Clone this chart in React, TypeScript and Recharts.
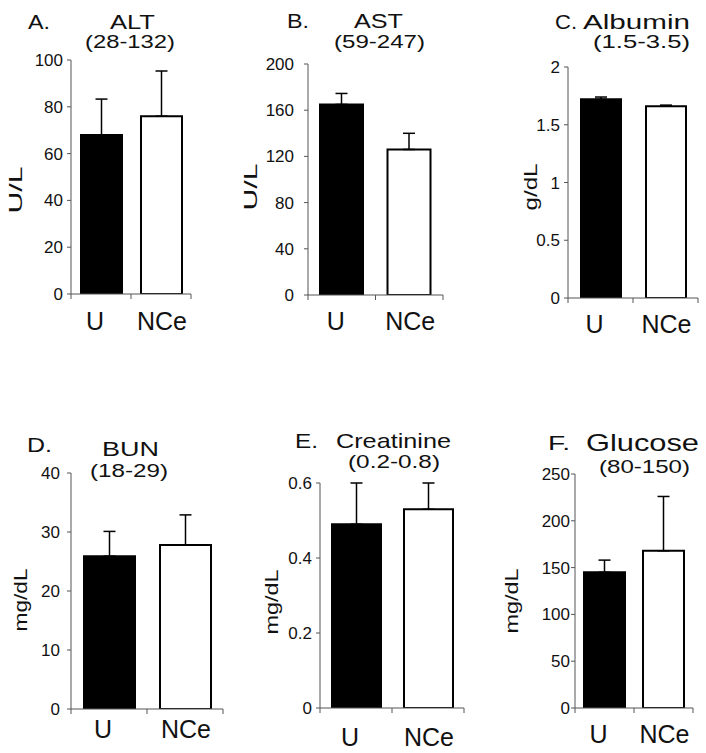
import React from 'react';
import { BarChart, Bar, Cell, XAxis, YAxis, ErrorBar } from 'recharts';

// group labels on the x axis
const groups = ['U', 'NCe'];

// panel texts
const panelLetters = ['A.', 'B.', 'C.', 'D.', 'E.', 'F.'];
const analytes = ['ALT', 'AST', 'Albumin', 'BUN', 'Creatinine', 'Glucose'];
const refRanges = ['(28-132)', '(59-247)', '(1.5-3.5)', '(18-29)', '(0.2-0.8)', '(80-150)'];
const units = ['U/L', 'U/L', 'g/dL', 'mg/dL', 'mg/dL', 'mg/dL'];

// means and upper error (SD) per group
const altMean = [68, 76];
const altSd = [15.3, 19.3];
const astMean = [165, 126];
const astSd = [9.5, 14];
const albMean = [1.72, 1.66];
const albSd = [0.02, 0.01];
const bunMean = [25.9, 27.8];
const bunSd = [4.2, 5.1];
const creMean = [0.49, 0.53];
const creSd = [0.11, 0.07];
const gluMean = [145, 168];
const gluSd = [13, 58];

// y axis ticks
const altTicks = [0, 20, 40, 60, 80, 100];
const astTicks = [0, 40, 80, 120, 160, 200];
const albTicks = [0, 0.5, 1, 1.5, 2];
const bunTicks = [0, 10, 20, 30, 40];
const creTicks = [0, 0.2, 0.4, 0.6];
const gluTicks = [0, 50, 100, 150, 200, 250];

const ink = '#111';
const axisColor = '#555';
const font = '"Liberation Sans", Arial, sans-serif';
const barFills = ['#000', '#fff'];
const xNudge = [-6, 1];

interface PanelProps {
  mean: number[];
  sd: number[];
  ticks: number[];
  L: number;
  R: number;
  T: number;
  B: number;
  barSize: number;
  tickGap: number;
  labelDy: number;
}

const Panel = ({ mean, sd, ticks, L, R, T, B, barSize, tickGap, labelDy }: PanelProps) => {
  const yw = 60;
  const top = 12;
  const right = 12;
  const xh = 50;
  const left = L - yw;
  const width = R - left + right;
  const height = top + (B - T) + xh;
  const data = groups.map((g, i) => ({ group: g, mean: mean[i], err: [0, sd[i]] }));
  const halfBand = (R - L) / groups.length / 2;

  // category ticks sit between the bars, labels under the bars
  const renderTick = (props: any) => {
    const { x, y, payload, index } = props;
    return (
      <g>
        {index === 0 && (
          <line x1={x - halfBand} x2={x - halfBand} y1={y} y2={y + 5} stroke={axisColor} />
        )}
        <line x1={x + halfBand} x2={x + halfBand} y1={y} y2={y + 5} stroke={axisColor} />
        <text x={x + xNudge[index]} y={y + labelDy} textAnchor="middle" fontSize={25} fill={ink}>
          {payload.value}
        </text>
      </g>
    );
  };

  return (
    <div style={{ position: 'absolute', left, top: T - top }}>
      <BarChart width={width} height={height} data={data} margin={{ top, right, bottom: 0, left: 0 }}>
        <XAxis
          dataKey="group"
          height={xh}
          tickSize={0}
          tickMargin={0}
          tick={renderTick}
          stroke={axisColor}
          interval={0}
        />
        <YAxis
          width={yw}
          type="number"
          domain={[0, ticks[ticks.length - 1]]}
          ticks={ticks}
          allowDataOverflow
          interval={0}
          tickSize={4}
          tickMargin={tickGap}
          stroke={axisColor}
          tick={{ fontSize: 17, fill: ink }}
        />
        <Bar dataKey="mean" barSize={barSize} stroke="#000" strokeWidth={2} isAnimationActive={false}>
          {data.map((d, i) => (
            <Cell key={d.group} fill={barFills[i]} />
          ))}
          <ErrorBar dataKey="err" width={6} stroke="#000" strokeWidth={1.5} isAnimationActive={false} />
        </Bar>
      </BarChart>
    </div>
  );
};

// title / unit label placement (left x, baseline y, width)
const titleLayout = [
  { lx: 28, ly: 29, lw: 22, nx: 110, ny: 29, nw: 45, rx: 85, ry: 48, rw: 90, ux: 21.5, uy: 190, uw: 47, ns: 21 },
  { lx: 287, ly: 28, lw: 22, nx: 354, ny: 28, nw: 49, rx: 334, ry: 48, rw: 91, ux: 256.5, uy: 187, uw: 47, ns: 21 },
  { lx: 555, ly: 29, lw: 22, nx: 583, ny: 29, nw: 107, rx: 593, ry: 48, rw: 97, ux: 537, uy: 187, uw: 47, ns: 21 },
  { lx: 27, ly: 452, lw: 25, nx: 102, ny: 456, nw: 57, rx: 90, ry: 477, rw: 78, ux: 27, uy: 600, uw: 63, ns: 21 },
  { lx: 295, ly: 448, lw: 23, nx: 336, ny: 448, nw: 115, rx: 348, ry: 468, rw: 92, ux: 278, uy: 602, uw: 65, ns: 21 },
  { lx: 548, ly: 450, lw: 22, nx: 586, ny: 451, nw: 113, rx: 599, ry: 473, rw: 91, ux: 518, uy: 601, uw: 65, ns: 24 },
];

const App = () => {
  return (
    <div
      style={{
        position: 'absolute',
        left: 0,
        top: 0,
        width: 706,
        height: 753,
        background: '#fff',
        fontFamily: font,
        overflow: 'hidden',
      }}
    >
      <Panel mean={altMean} sd={altSd} ticks={altTicks} L={71} R={191} T={60} B={294} barSize={41} tickGap={4} labelDy={36} />
      <Panel mean={astMean} sd={astSd} ticks={astTicks} L={308} R={443} T={64} B={295} barSize={43} tickGap={10} labelDy={35} />
      <Panel mean={albMean} sd={albSd} ticks={albTicks} L={568} R={698} T={67} B={298} barSize={40} tickGap={4} labelDy={35} />
      <Panel mean={bunMean} sd={bunSd} ticks={bunTicks} L={71} R={223} T={473} B={709} barSize={51} tickGap={7} labelDy={29} />
      <Panel mean={creMean} sd={creSd} ticks={creTicks} L={320} R={464} T={483} B={708} barSize={49} tickGap={4} labelDy={38} />
      <Panel mean={gluMean} sd={gluSd} ticks={gluTicks} L={575} R={693} T={474} B={708} barSize={41} tickGap={1} labelDy={35} />

      <svg width={706} height={753} style={{ position: 'absolute', left: 0, top: 0, pointerEvents: 'none' }}>
        {titleLayout.map((t, i) => (
          <g key={analytes[i]} fill={ink} fontFamily={font}>
            <text x={t.lx} y={t.ly} fontSize={21} textLength={t.lw} lengthAdjust="spacingAndGlyphs">
              {panelLetters[i]}
            </text>
            <text x={t.nx} y={t.ny} fontSize={t.ns} textLength={t.nw} lengthAdjust="spacingAndGlyphs">
              {analytes[i]}
            </text>
            <text x={t.rx} y={t.ry} fontSize={18.5} textLength={t.rw} lengthAdjust="spacingAndGlyphs">
              {refRanges[i]}
            </text>
            <text
              transform={`translate(${t.ux},${t.uy}) rotate(-90)`}
              textAnchor="middle"
              fontSize={19}
              textLength={t.uw}
              lengthAdjust="spacingAndGlyphs"
            >
              {units[i]}
            </text>
          </g>
        ))}
      </svg>
    </div>
  );
};

export default App;
